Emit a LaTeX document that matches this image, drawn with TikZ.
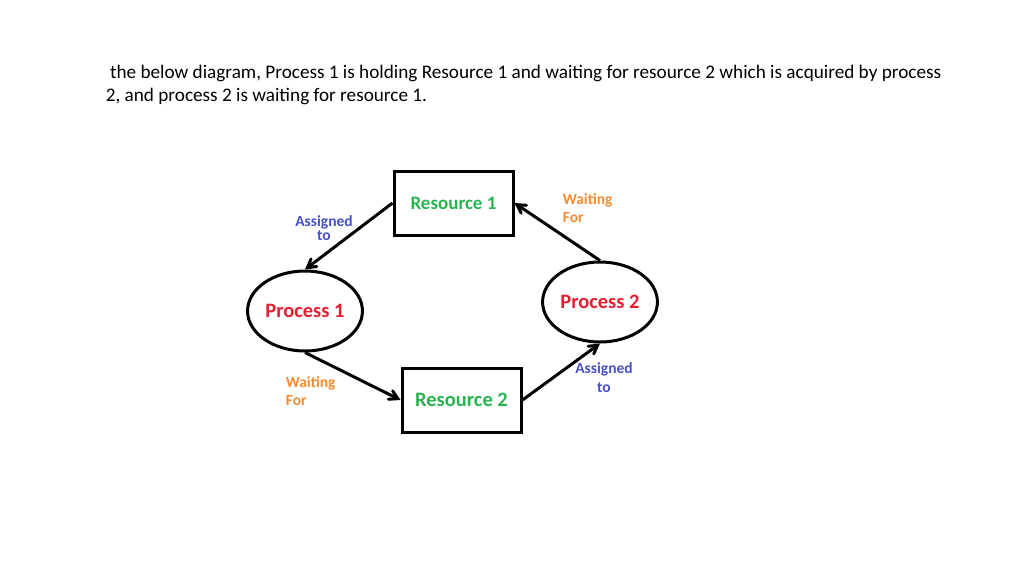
\documentclass[tikz,border=0pt]{standalone}
\usepackage{fontspec}
\setmainfont{Carlito}
\usetikzlibrary{shapes,arrows,positioning}
\definecolor{resgreen}{RGB}{40,180,80}
\definecolor{procred}{RGB}{230,30,50}
\definecolor{asgblue}{RGB}{70,80,200}
\definecolor{waitorange}{RGB}{245,140,50}

\begin{document}
\begin{tikzpicture}[x=1pt,y=-1pt,->,>=angle 60, line width = 3 pt]
\useasboundingbox (0,0) rectangle (1024,576);

\node [anchor=west, font=\fontsize{19.2}{23.5}\selectfont, align=left] (caption) at (101,85)
  {\ the below diagram, Process 1 is holding Resource 1 and waiting for resource 2 which is acquired by process\\2, and process 2 is waiting for resource 1.};

\node [draw, minimum width=119, minimum height=64, text=resgreen, font=\fontsize{19}{20}\selectfont\bfseries] (res1) at (453.5,203) {Resource 1};
\node [draw, minimum width=119, minimum height=64, text=resgreen, font=\fontsize{20.5}{20}\selectfont\bfseries] (res2) at (461.5,400) {Resource 2};
\node [ellipse, draw, minimum width=104, minimum height=80, inner sep=1pt, text=procred, font=\fontsize{20.5}{20}\selectfont\bfseries] (proc1) at (305,311) {Process 1};
\node [ellipse, draw, minimum width=106, minimum height=80, inner sep=1pt, text=procred, font=\fontsize{20.5}{20}\selectfont\bfseries] (proc2) at (600,302) {Process 2};

\path (res1.west) edge (proc1.north);
\path (proc1.south) edge (res2.west);
\path (res2.east) edge (proc2.south);
\path (proc2.north) edge (res1.east);

\node [text=asgblue, font=\fontsize{15.5}{14}\selectfont\bfseries, align=center] (asg1) at (324,228) {Assigned\\to};
\node [text=waitorange, font=\fontsize{15.5}{18}\selectfont\bfseries, align=left, anchor=west] (wait1) at (558,208) {Waiting\\For};
\node [text=waitorange, font=\fontsize{15.5}{18}\selectfont\bfseries, align=left, anchor=west] (wait2) at (281,391) {Waiting\\For};
\node [text=asgblue, font=\fontsize{15.5}{19}\selectfont\bfseries, align=center] (asg2) at (604,378) {Assigned\\to};
\end{tikzpicture}
\end{document}
